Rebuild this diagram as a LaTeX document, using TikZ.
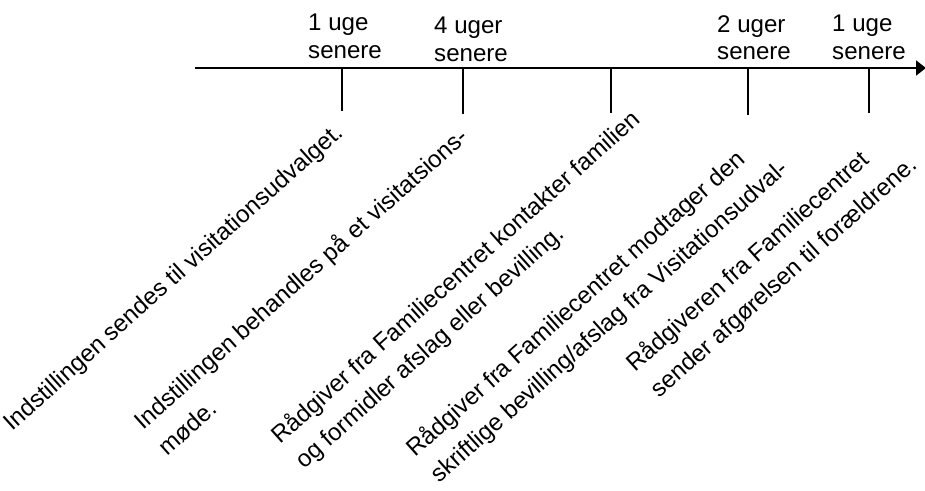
\documentclass[tikz,border=0pt]{standalone}
\usepackage{fontspec}
\setmainfont{Liberation Sans}
\usetikzlibrary{arrows.meta}
\begin{document}
\begin{tikzpicture}[x=1pt,y=-1pt,
  lbl/.style={inner sep=0pt, anchor=base west, font=\fontsize{24.1}{28}\selectfont},
  rot/.style={lbl, rotate=41.8},
  axisline/.style={line width=1.8pt, -{Triangle[length=10pt,width=15pt]}},
  tickline/.style={line width=1.5pt}]
\useasboundingbox (0,0) rectangle (925,490);
% axis
\coordinate (a0) at (195,68);
\coordinate (a1) at (926,68);
\draw[axisline] (a0) -- (a1);
% ticks
\foreach \n/\x/\yb in {1/342/111, 2/463/114, 3/611/113, 4/748/115, 5/869/113}{
  \coordinate (k\n) at (\x,68);
  \coordinate (k\n b) at (\x,\yb);
  \draw[tickline] (k\n) -- (k\n b);
}
% top labels
\node[lbl] (w1a) at (308,30) {1 uge};
\node[lbl] (w1b) at (308,58) {senere};
\node[lbl] (w2a) at (434,33) {4 uger};
\node[lbl] (w2b) at (434,61) {senere};
\node[lbl] (w3a) at (717,32) {2 uger};
\node[lbl] (w3b) at (717,59) {senere};
\node[lbl] (w4a) at (832,31) {1 uge};
\node[lbl] (w4b) at (832,59) {senere};
% rotated texts
\node[rot] (t1) at (12,432) {Indstillingen sendes til visitationsudvalget.};
\node[rot] (t2a) at (143,431) {Indstillingen behandles på et visitatsions-};
\node[rot] (t2b) at (167,457) {møde.};
\node[rot] (t3a) at (280,445) {Rådgiver fra Familiecentret kontakter familien};
\node[rot] (t3b) at (304,470) {og formidler afslag eller bevilling.};
\node[rot] (t4a) at (415,458) {Rådgiver fra Familiecentret modtager den};
\node[rot] (t4b) at (439,484) {skriftlige bevilling/afslag fra Visitationsudval-};
\node[rot] (t5a) at (635,373) {Rådgiveren fra Familiecentret};
\node[rot] (t5b) at (659,399) {sender afgørelsen til forældrene.};
\end{tikzpicture}
\end{document}
